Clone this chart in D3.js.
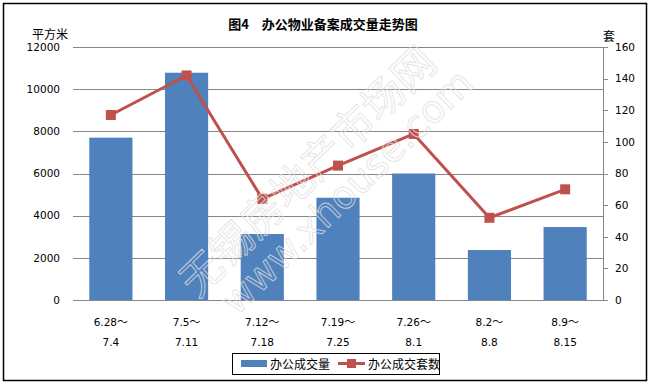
<!DOCTYPE html>
<html>
<head>
<meta charset="utf-8">
<script src="https://cdn.jsdelivr.net/npm/d3@7"></script>
<style>
  body { margin: 0; background: #fff; }
  svg { display: block; }
</style>
</head>
<body>
<svg width="650" height="385"></svg>
<script>
// data
var categories = ["6.28～\n7.4", "7.5～\n7.11", "7.12～\n7.18", "7.19～\n7.25", "7.26～\n8.1", "8.2～\n8.8", "8.9～\n8.15"];
var area = [7700, 10780, 3130, 4850, 6000, 2370, 3460];   // 办公成交量 (平方米)
var units = [117, 142, 64, 85, 105, 52, 70];              // 办公成交套数 (套)
var leftTicks = [0, 2000, 4000, 6000, 8000, 10000, 12000];
var rightTicks = [0, 20, 40, 60, 80, 100, 120, 140, 160];

(function () {
    var svg = d3.select("svg"),
        pl = 73, pr = 603, pt = 47, pb = 300,
        cjk = "'Noto Sans CJK SC', sans-serif",
        num = "'DejaVu Sans', sans-serif",
        blue = "#4F81BD", red = "#C0504D", grid = "#868686";

    var x = d3.scaleBand()
        .domain(categories)
        .range([pl, pr])
        .paddingInner(0.43)
        .paddingOuter(0.215);

    var yL = d3.scaleLinear().domain([0, 12000]).range([pb, pt]);
    var yR = d3.scaleLinear().domain([0, 160]).range([pb, pt]);

    // outer frame
    svg.append("rect")
        .attr("x", 3.5).attr("y", 3.5)
        .attr("width", 643).attr("height", 377)
        .attr("fill", "#fff")
        .attr("stroke", "#000")
        .attr("stroke-width", 1.5);

    // title
    svg.append("text")
        .attr("x", 323).attr("y", 29)
        .attr("text-anchor", "middle")
        .style("font-family", cjk)
        .style("font-size", "13px")
        .style("font-weight", "bold")
        .text("图4　办公物业备案成交量走势图");

    // gridlines (left axis has no line / ticks)
    svg.append("g")
        .selectAll("line")
        .data(leftTicks)
        .enter().append("line")
        .attr("x1", pl)
        .attr("x2", function(d) { return d === 0 ? pr + 5 : pr; })
        .attr("y1", function(d) { return Math.round(yL(d)) + 0.5; })
        .attr("y2", function(d) { return Math.round(yL(d)) + 0.5; })
        .attr("stroke", grid)
        .attr("stroke-width", 1);

    svg.append("g")
        .selectAll("text")
        .data(leftTicks)
        .enter().append("text")
        .attr("x", 60)
        .attr("y", function(d) { return yL(d); })
        .attr("dy", "0.36em")
        .attr("text-anchor", "end")
        .style("font-family", num)
        .style("font-size", "10.5px")
        .text(function(d) { return d; });

    // right axis
    var rAxis = svg.append("g");
    rAxis.append("line")
        .attr("x1", pr + 0.5).attr("x2", pr + 0.5)
        .attr("y1", pt).attr("y2", pb)
        .attr("stroke", grid);
    rAxis.selectAll("line.tick")
        .data(rightTicks)
        .enter().append("line")
        .attr("class", "tick")
        .attr("x1", pr).attr("x2", pr + 5)
        .attr("y1", function(d) { return Math.round(yR(d)) + 0.5; })
        .attr("y2", function(d) { return Math.round(yR(d)) + 0.5; })
        .attr("stroke", grid);
    rAxis.selectAll("text")
        .data(rightTicks)
        .enter().append("text")
        .attr("x", 615)
        .attr("y", function(d) { return yR(d); })
        .attr("dy", "0.36em")
        .style("font-family", num)
        .style("font-size", "10.5px")
        .text(function(d) { return d; });

    // axis unit labels
    svg.append("text")
        .attr("x", 32).attr("y", 39)
        .style("font-family", cjk)
        .style("font-size", "12px")
        .text("平方米");
    svg.append("text")
        .attr("x", 603).attr("y", 41)
        .style("font-family", cjk)
        .style("font-size", "12px")
        .text("套");

    // bars
    svg.append("g")
        .selectAll("rect")
        .data(area)
        .enter().append("rect")
        .attr("x", function(d, i) { return x(categories[i]); })
        .attr("y", function(d) { return yL(d); })
        .attr("width", x.bandwidth())
        .attr("height", function(d) { return pb - yL(d); })
        .attr("fill", blue);

    // category labels, two lines
    var cx = function(i) { return x(categories[i]) + x.bandwidth() / 2; };
    svg.append("g")
        .selectAll("text")
        .data(categories)
        .enter().append("text")
        .attr("text-anchor", "middle")
        .style("font-family", num)
        .style("font-size", "10.5px")
        .each(function(d, i) {
            var parts = d.split("\n"),
                t = d3.select(this);
            t.append("tspan")
                .attr("x", cx(i)).attr("y", 326)
                .text(parts[0].replace("～", ""));
            t.append("tspan")
                .style("font-family", cjk)
                .style("font-size", "11px")
                .text("～");
            t.append("tspan")
                .attr("x", cx(i)).attr("y", 346)
                .text(parts[1]);
        });

    // line series
    var line = d3.line()
        .x(function(d, i) { return cx(i); })
        .y(function(d) { return yR(d); });

    svg.append("path")
        .datum(units)
        .attr("d", line)
        .attr("fill", "none")
        .attr("stroke", red)
        .attr("stroke-width", 3)
        .attr("stroke-linejoin", "round");

    svg.append("g")
        .selectAll("rect")
        .data(units)
        .enter().append("rect")
        .attr("x", function(d, i) { return cx(i) - 5; })
        .attr("y", function(d) { return yR(d) - 5; })
        .attr("width", 10).attr("height", 10)
        .attr("fill", red);

    // watermark
    var wm = svg.append("g")
        .attr("transform", "translate(318,182) rotate(-44)")
        .attr("text-anchor", "middle")
        .attr("fill", "none")
        .attr("stroke", "#e0e0e0")
        .attr("stroke-opacity", 0.8)
        .attr("stroke-width", 1);
    wm.append("text")
        .attr("x", 0).attr("y", 0)
        .style("font-family", cjk)
        .style("font-size", "42px")
        .text("无锡房地产市场网");
    wm.append("text")
        .attr("x", 14).attr("y", 40)
        .style("font-family", "'DejaVu Sans', sans-serif")
        .style("font-size", "38px")
        .text("www.xhouse.com");

    // legend
    var lg = svg.append("g");
    lg.append("rect")
        .attr("x", 232.5).attr("y", 353.5)
        .attr("width", 207).attr("height", 21)
        .attr("fill", "#fff")
        .attr("stroke", "#000");
    lg.append("rect")
        .attr("x", 241).attr("y", 360)
        .attr("width", 26).attr("height", 7)
        .attr("fill", blue);
    lg.append("text")
        .attr("x", 270).attr("y", 368.5)
        .style("font-family", cjk)
        .style("font-size", "12px")
        .text("办公成交量");
    lg.append("line")
        .attr("x1", 338).attr("x2", 365)
        .attr("y1", 363.5).attr("y2", 363.5)
        .attr("stroke", red)
        .attr("stroke-width", 3);
    lg.append("rect")
        .attr("x", 347).attr("y", 359)
        .attr("width", 9).attr("height", 9)
        .attr("fill", red);
    lg.append("text")
        .attr("x", 368).attr("y", 368.5)
        .style("font-family", cjk)
        .style("font-size", "12px")
        .text("办公成交套数");
})();
</script>
</body>
</html>
